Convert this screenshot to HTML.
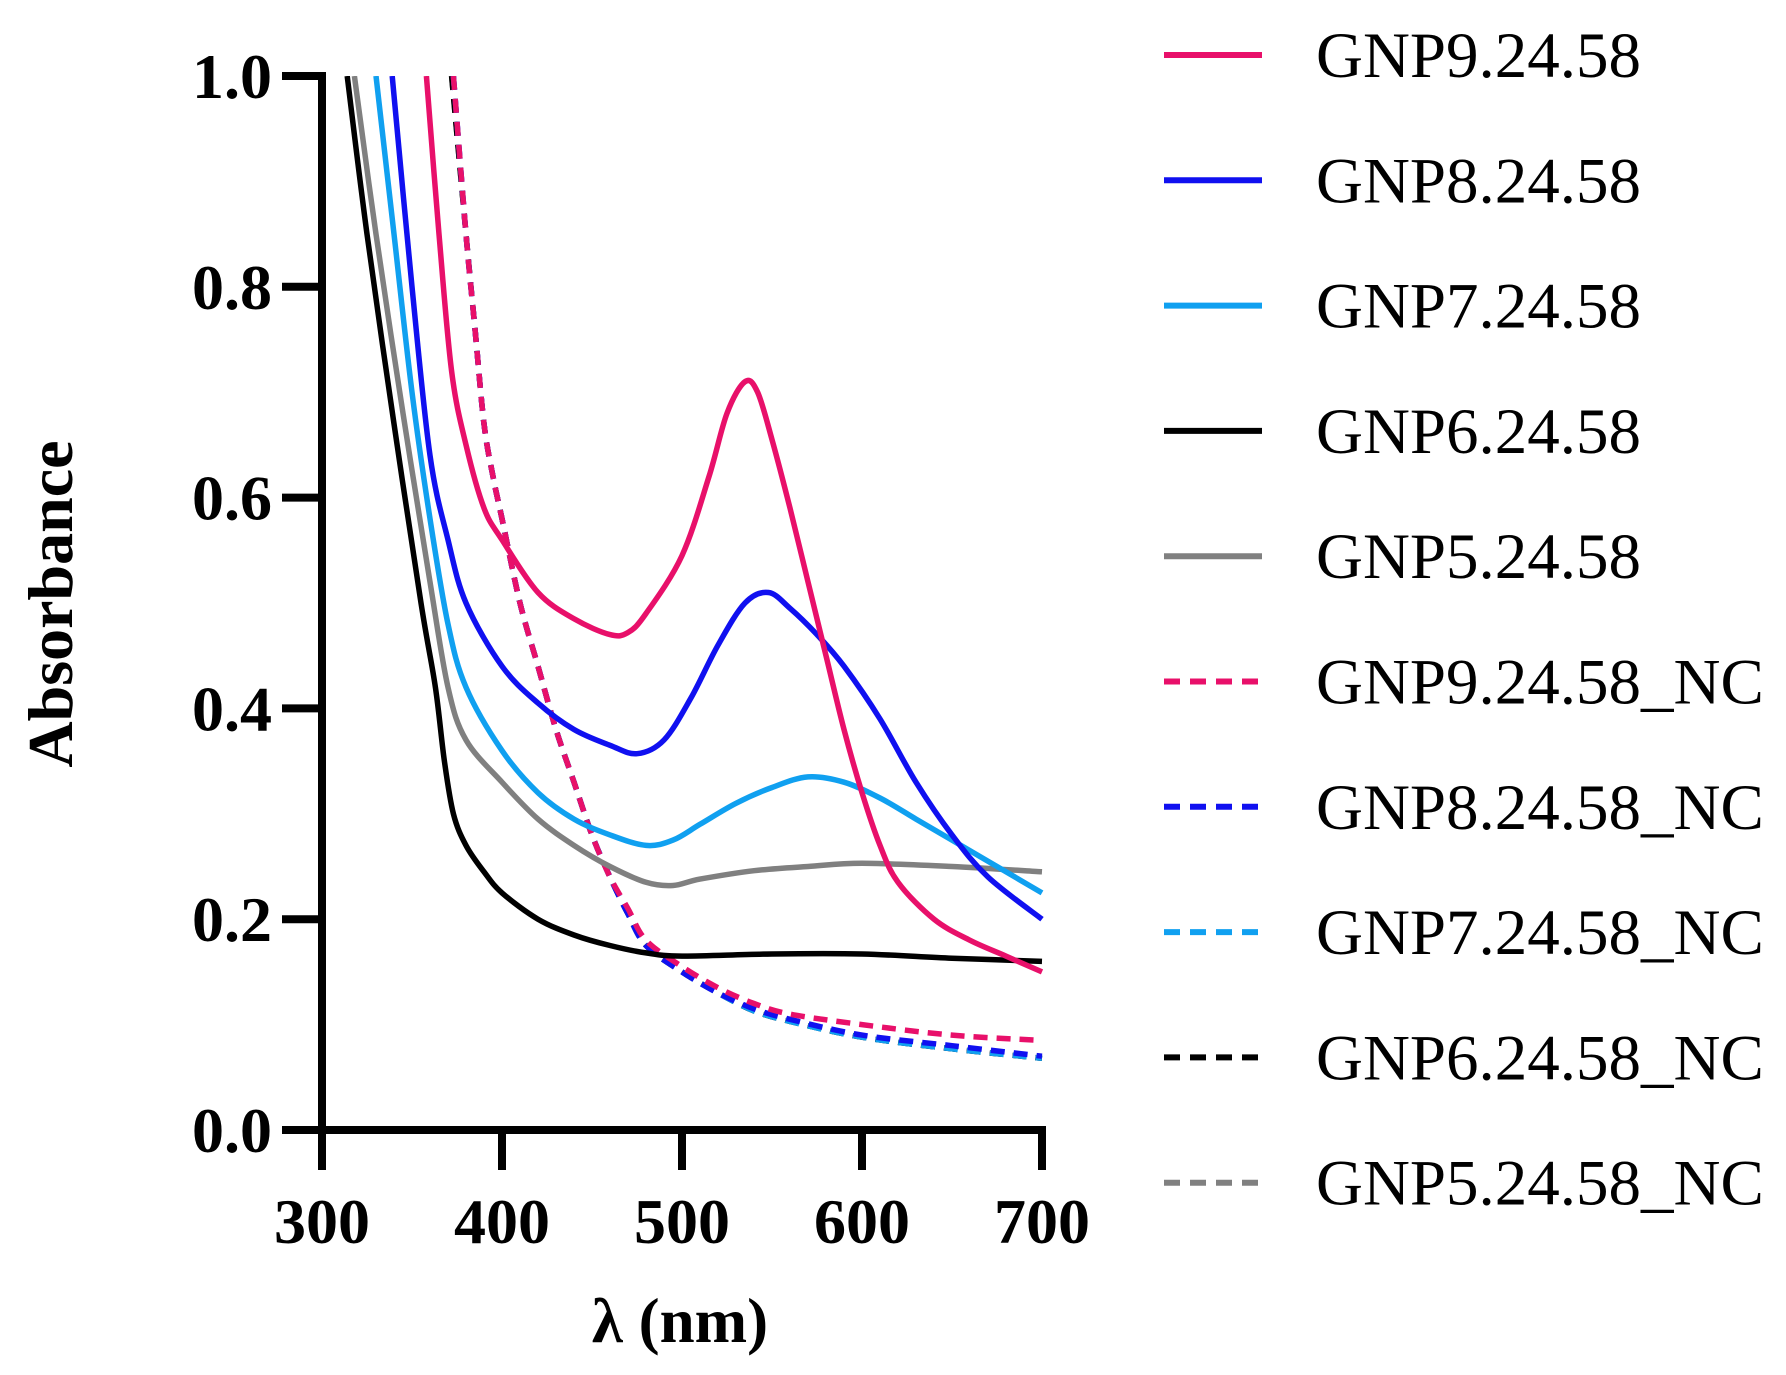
<!DOCTYPE html>
<html><head><meta charset="utf-8"><style>
html,body{margin:0;padding:0;background:#fff;}
svg{display:block;}
text{font-family:"Liberation Serif",serif;}
</style></head><body>
<svg id="chart" width="1786" height="1375" viewBox="0 0 1786 1375">
<defs><clipPath id="plotclip"><rect x="322" y="76" width="722" height="1056"/></clipPath></defs>
<g id="axes"></g>
<g id="series" clip-path="url(#plotclip)"></g>
<g id="legend"></g>
<text x="680" y="1342" text-anchor="middle" font-size="63" font-weight="bold">λ (nm)</text>
<text transform="translate(72,604) rotate(-90)" text-anchor="middle" font-size="64" font-weight="bold">Absorbance</text>
</svg>
<script>
const xTicks=[300,400,500,600,700];
const yTicks=[0.0,0.2,0.4,0.6,0.8,1.0];
const seriesNames=["GNP9.24.58","GNP8.24.58","GNP7.24.58","GNP6.24.58","GNP5.24.58","GNP9.24.58_NC","GNP8.24.58_NC","GNP7.24.58_NC","GNP6.24.58_NC","GNP5.24.58_NC"];
const seriesColors=["#e8106a","#1010f0","#10a0f0","#000000","#808080","#e8106a","#1010f0","#10a0f0","#000000","#808080"];
const gnp9=[[358,1.0],[365,0.85],[372,0.72],[380,0.65],[390,0.59],[400,0.56],[420,0.51],[440,0.485],[460,0.47],[470,0.472],[480,0.49],[500,0.545],[515,0.62],[525,0.68],[535,0.71],[542,0.70],[550,0.655],[560,0.59],[570,0.52],[580,0.45],[590,0.38],[600,0.32],[610,0.27],[620,0.235],[640,0.2],[660,0.18],[680,0.165],[700,0.15]];
const gnp8=[[339,1.0],[350,0.8],[360,0.64],[370,0.56],[380,0.5],[400,0.44],[420,0.405],[440,0.38],[460,0.365],[475,0.357],[490,0.37],[505,0.41],[520,0.46],[535,0.5],[548,0.51],[560,0.495],[575,0.47],[590,0.44],[610,0.39],[630,0.33],[650,0.28],[670,0.24],[700,0.2]];
const gnp7=[[330,1.0],[340,0.85],[350,0.7],[360,0.58],[370,0.48],[380,0.42],[400,0.36],[420,0.32],[440,0.295],[460,0.28],[480,0.27],[495,0.275],[510,0.29],[530,0.31],[550,0.325],[570,0.335],[590,0.33],[610,0.315],[630,0.295],[650,0.275],[670,0.255],[700,0.225]];
const gnp6=[[314,1.0],[325,0.85],[340,0.67],[355,0.5],[363,0.42],[368,0.35],[373,0.3],[380,0.27],[390,0.245],[400,0.225],[420,0.2],[440,0.185],[460,0.175],[480,0.168],[500,0.165],[550,0.167],[600,0.167],[650,0.163],[700,0.16]];
const gnp5=[[318,1.0],[330,0.85],[345,0.68],[360,0.52],[370,0.42],[380,0.37],[400,0.33],[420,0.295],[440,0.27],[460,0.25],[480,0.235],[495,0.232],[510,0.238],[540,0.246],[570,0.25],[600,0.253],[650,0.25],[700,0.245]];
const gnp9nc=[[373,1.0],[380,0.85],[385,0.76],[390,0.67],[395,0.62],[400,0.58],[410,0.5],[420,0.44],[430,0.38],[440,0.33],[450,0.28],[460,0.24],[470,0.21],[480,0.18],[500,0.155],[520,0.135],[540,0.12],[560,0.11],[600,0.1],[650,0.09],[700,0.085]];
const gnp8nc=[[373,1.0],[380,0.85],[385,0.76],[390,0.67],[395,0.62],[400,0.58],[410,0.5],[420,0.44],[430,0.38],[440,0.33],[450,0.28],[460,0.24],[470,0.205],[480,0.175],[500,0.15],[520,0.13],[540,0.115],[560,0.105],[600,0.09],[650,0.08],[700,0.07]];
const gnp7nc=[[373,1.0],[380,0.85],[385,0.76],[390,0.67],[395,0.62],[400,0.58],[410,0.5],[420,0.44],[430,0.38],[440,0.33],[450,0.28],[460,0.24],[470,0.205],[480,0.175],[500,0.15],[520,0.13],[540,0.113],[560,0.103],[600,0.088],[650,0.077],[700,0.068]];
const gnp6nc=[[372,1.0],[380,0.85],[385,0.76],[390,0.67],[395,0.62],[400,0.58],[410,0.5],[420,0.44],[430,0.38],[440,0.33],[450,0.28],[460,0.24],[470,0.205],[480,0.175],[500,0.15],[520,0.13],[540,0.113],[560,0.103],[600,0.088],[650,0.077],[700,0.068]];
const gnp5nc=[[372,1.0],[380,0.85],[385,0.76],[390,0.67],[395,0.62],[400,0.58],[410,0.5],[420,0.44],[430,0.38],[440,0.33],[450,0.28],[460,0.24],[470,0.205],[480,0.175],[500,0.15],[520,0.13],[540,0.113],[560,0.103],[600,0.088],[650,0.077],[700,0.068]];
const seriesData=[gnp9,gnp8,gnp7,gnp6,gnp5,gnp9nc,gnp8nc,gnp7nc,gnp6nc,gnp5nc];

const NS="http://www.w3.org/2000/svg";
const X0=322,X1=1042,Y0=1130,Y1=76;
function xs(v){return X0+(v-300)/400*(X1-X0);}
function ys(v){return Y0-v*(Y0-Y1);}
function mk(tag,attrs,parent){const e=document.createElementNS(NS,tag);for(const k in attrs)e.setAttribute(k,attrs[k]);parent.appendChild(e);return e;}
function smooth(pts){
  let d='M'+pts[0][0].toFixed(1)+','+pts[0][1].toFixed(1);
  for(let i=0;i<pts.length-1;i++){
    const p0=pts[i-1]||pts[i],p1=pts[i],p2=pts[i+1],p3=pts[i+2]||p2;
    const c1=[p1[0]+(p2[0]-p0[0])/6,p1[1]+(p2[1]-p0[1])/6];
    const c2=[p2[0]-(p3[0]-p1[0])/6,p2[1]-(p3[1]-p1[1])/6];
    d+=` C${c1[0].toFixed(1)},${c1[1].toFixed(1)} ${c2[0].toFixed(1)},${c2[1].toFixed(1)} ${p2[0].toFixed(1)},${p2[1].toFixed(1)}`;
  }
  return d;
}
const axes=document.getElementById('axes');
const ax=mk('path',{d:`M${X0},${Y1} V${Y0} H${X1}`,fill:'none',stroke:'#000','stroke-width':8,'stroke-linecap':'square'},axes);


xTicks.forEach(t=>{
  const l=mk('line',{x1:xs(t),x2:xs(t),y1:Y0,y2:Y0+40,stroke:'#000','stroke-width':8},axes);
  
  
  const tx=mk('text',{x:xs(t),y:1243,'text-anchor':'middle','font-size':64,'font-weight':'bold'},axes);
  tx.textContent=String(t);
  
  
});
yTicks.forEach(t=>{
  const l=mk('line',{x1:X0-40,x2:X0,y1:ys(t),y2:ys(t),stroke:'#000','stroke-width':8},axes);
  
  
  const tx=mk('text',{x:X0-50,y:ys(t)+22,'text-anchor':'end','font-size':64,'font-weight':'bold'},axes);
  tx.textContent=t.toFixed(1);
  
  
});
const sg=document.getElementById('series');
const order=[9,8,7,6,5,4,3,2,1,0];
order.forEach(i=>{
  const pts=seriesData[i].map(p=>[xs(p[0]),ys(p[1])]);
  const dashed=i>=5;
  const p=mk('path',{d:smooth(pts),fill:'none',stroke:seriesColors[i],'stroke-width':5.5,'stroke-linejoin':'round'},sg);
  if(dashed)p.setAttribute('stroke-dasharray','14 9');
  
  
});
const lg=document.getElementById('legend');
seriesNames.forEach((n,i)=>{
  const y=55+125.3*i;
  const l=mk('line',{x1:1164,x2:1262,y1:y,y2:y,stroke:seriesColors[i],'stroke-width':6},lg);
  if(i>=5){l.setAttribute('stroke-dasharray','16 10');}
  
  
  const t=mk('text',{x:1316,y:y+22,'font-size':65},lg);
  t.textContent=n;
  
  
});
</script>
</body></html>
